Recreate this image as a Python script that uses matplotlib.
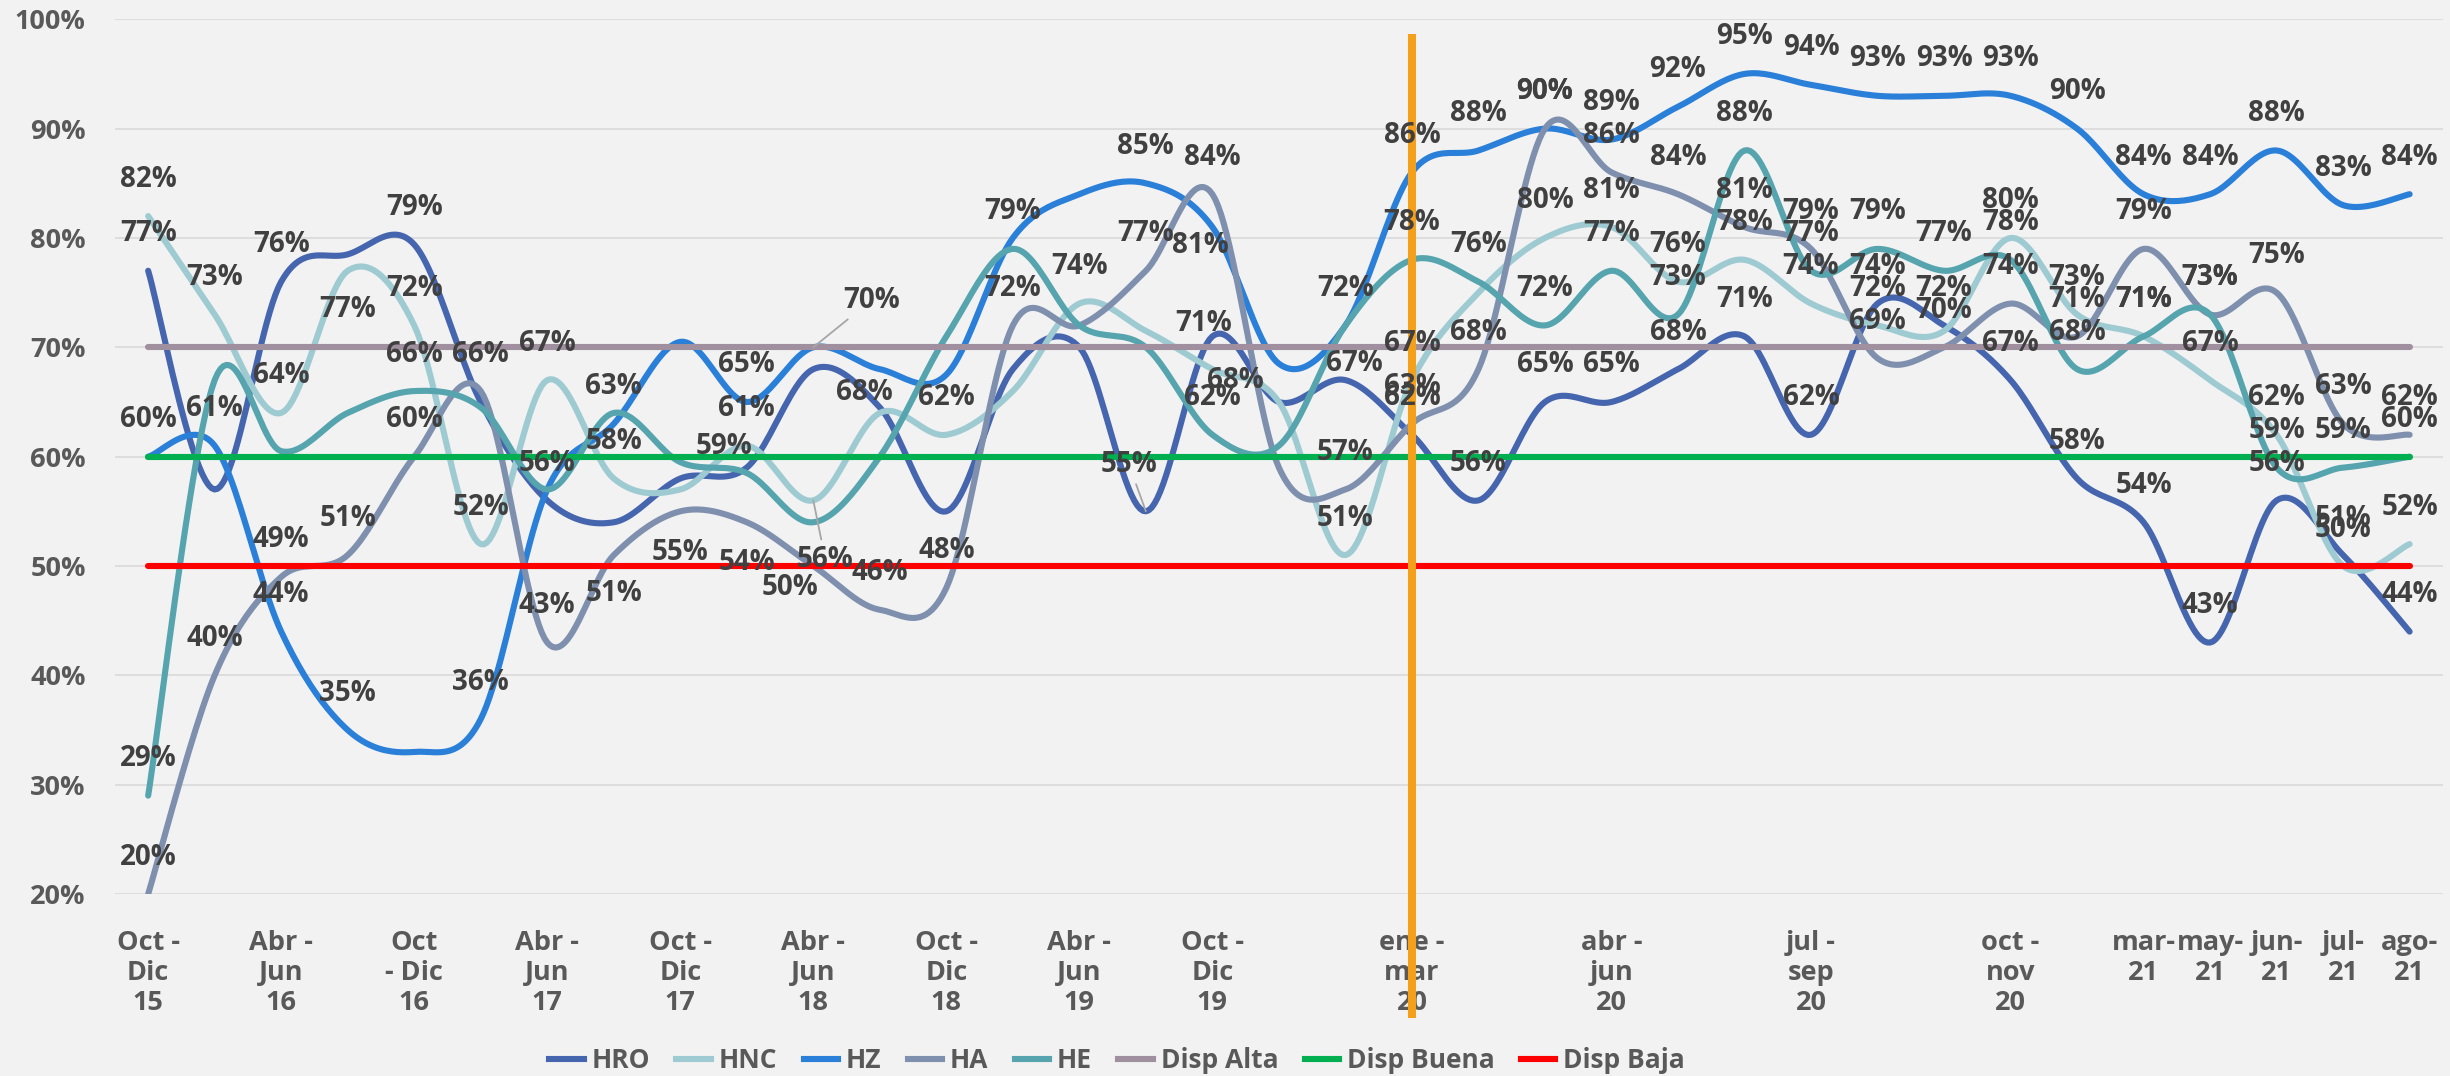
import numpy as np
import matplotlib.pyplot as plt
from matplotlib.lines import Line2D

plt.rcParams['font.family'] = ['Open Sans', 'DejaVu Sans']

# categories (only some carry a tick label)
categories = ['Oct -\nDic\n15', '', 'Abr -\nJun\n16', '', 'Oct\n- Dic\n16', '',
              'Abr -\nJun\n17', '', 'Oct -\nDic\n17', '', 'Abr -\nJun\n18', '',
              'Oct -\nDic\n18', '', 'Abr -\nJun\n19', '', 'Oct -\nDic\n19', '', '',
              'ene -\nmar\n20', '', '', 'abr -\njun\n20', '', '', 'jul -\nsep\n20',
              '', '', 'oct -\nnov\n20', '', 'mar-\n21', 'may-\n21', 'jun-\n21',
              'jul-\n21', 'ago-\n21']

hro = [77, 57, 76, 78.5, 79.4, 65, 56, 54, 58, 59, 68, 64.5, 55, 68, 70, 55, 71, 65,
       67, 62, 56, 65, 65, 68, 71, 62, 74, 72, 67, 58, 54, 43, 56, 51, 44]
hnc = [82, 73, 64, 77, 72, 52, 67, 58, 57, 61, 56, 64, 62, 66, 74, 71.5, 68, 65,
       51, 67, 75, 80, 81, 76, 78, 74, 72, 71.5, 80, 73, 71, 67, 62, 50, 52]
hz = [60, 61, 44, 35, 33, 36, 57, 63, 70.5, 65, 70, 68, 67.5, 80, 84, 85, 81, 68.5,
      72, 86, 88, 90, 89, 92, 95, 94, 93, 93, 93, 90, 84, 84, 88, 83, 84]
ha = [20, 40, 49, 51, 60, 66, 43, 51, 55, 54, 50, 46, 48, 72, 72, 77, 84, 59,
      57, 63, 68, 90, 86, 84, 81, 79, 69, 70, 74, 71, 79, 73, 75, 63, 62]
he = [29, 67, 60.5, 64, 66, 64.5, 57, 64, 59.5, 58.5, 54, 60, 71, 79, 72, 70, 62, 61,
      72, 78, 76, 72, 77, 73, 88, 77, 79, 77, 78, 68, 71, 73, 59, 59, 60]

disp_alta = 70
disp_buena = 60
disp_baja = 50
covid_cat = 19

# points that show a data label
lab_hro = [0, 2, 4, 6, 9, 15, 16, 18, 19, 20, 21, 22, 23, 24, 25, 26, 27, 28, 29,
           30, 31, 32, 33, 34]
lab_hnc = [0, 1, 2, 3, 4, 5, 6, 7, 9, 10, 12, 14, 16, 18, 19, 21, 22, 23, 24, 25,
           26, 28, 29, 30, 31, 32, 33, 34]
lab_hz = [0, 1, 2, 3, 5, 7, 9, 10, 11, 15, 16, 19, 20, 21, 22, 23, 24, 25, 26, 27,
          28, 29, 30, 31, 32, 33, 34]
lab_ha = [0, 1, 2, 3, 4, 5, 6, 7, 8, 9, 10, 11, 12, 13, 15, 16, 18, 19, 20, 21, 22,
          23, 24, 25, 26, 27, 28, 29, 30, 31, 32, 33, 34]
lab_he = [0, 4, 13, 16, 18, 19, 20, 21, 22, 23, 24, 25, 26, 27, 28, 29, 30, 31, 32,
          33, 34]

# label placement tweaks (pixels, y up); default is centred above the point
offsets = {('HRO', 9): (-23, 21), ('HRO', 15): (-17, 47), ('HRO', 16): (-9, 13),
           ('HRO', 18): (9, 17), ('HNC', 3): (0, -39), ('HNC', 10): (12, -59),
           ('HNC', 16): (23, -11), ('HZ', 10): (58, 47), ('HZ', 11): (-15, -23),
           ('HZ', 16): (-12, -18), ('HA', 7): (0, -38), ('HA', 8): (0, -41),
           ('HA', 9): (0, -40), ('HA', 10): (-23, -21)}
leaders = {('HRO', 15), ('HNC', 10), ('HZ', 10)}


def smooth(xs, ys, n=24):
    # Excel-like smoothed line (Catmull-Rom as cubic Bezier)
    p = np.column_stack([xs, ys]).astype(float)
    t = np.linspace(0, 1, n)[:, None]
    out = []
    for i in range(len(p) - 1):
        p0 = p[max(i - 1, 0)]
        p1 = p[i]
        p2 = p[i + 1]
        p3 = p[min(i + 2, len(p) - 1)]
        c1 = p1 + (p2 - p0) / 6
        c2 = p2 - (p3 - p1) / 6
        seg = ((1 - t) ** 3) * p1 + 3 * ((1 - t) ** 2) * t * c1 + 3 * (1 - t) * t ** 2 * c2 + t ** 3 * p2
        out.append(seg if i == 0 else seg[1:])
    out = np.vstack(out)
    return out[:, 0], out[:, 1]


bg = '#F2F2F2'
fig = plt.figure(figsize=(24.5, 10.76), dpi=100, facecolor=bg)
ax = fig.add_axes([0.0469, 0.1691, 0.9502, 0.8130], facecolor=bg)

x = np.arange(len(categories))
series = [('HRO', hro, '#4565AE', lab_hro),
          ('HNC', hnc, '#9ECAD2', lab_hnc),
          ('HZ', hz, '#2A7FD8', lab_hz),
          ('HA', ha, '#7F90AE', lab_ha),
          ('HE', he, '#55A4AE', lab_he)]

for name, vals, col, labs in series:
    sx, sy = smooth(x, vals)
    ax.plot(sx, sy, color=col, lw=4.4, solid_capstyle='round', zorder=3)

refs = [('Disp Alta', disp_alta, '#9F8F9F'),
        ('Disp Buena', disp_buena, '#00B050'),
        ('Disp Baja', disp_baja, '#FF0000')]
for name, val, col in refs:
    ax.plot([x[0], x[-1]], [val, val], color=col, lw=4.4, solid_capstyle='round', zorder=4)

# orange marker at ene-mar 20
ax.plot([covid_cat, covid_cat], [98.3, 9.0], color='#F5A01A', lw=5.8, zorder=5,
        clip_on=False)

for name, vals, col, labs in series:
    for i in labs:
        dx, dy = offsets.get((name, i), (0, 37))
        arrow = None
        if (name, i) in leaders:
            arrow = dict(arrowstyle='-', color='#A6A6A6', lw=1.3, shrinkA=2, shrinkB=0)
        ax.annotate(f'{round(vals[i])}%', xy=(i, vals[i]), xytext=(dx, dy),
                    textcoords='offset pixels', ha='center', va='center',
                    fontsize=20, fontweight='bold', color='#404040', zorder=6,
                    arrowprops=arrow)

ax.set_xlim(-0.5, len(categories) - 0.5)
ax.set_ylim(20, 100)
ax.set_yticks(np.arange(20, 101, 10))
ax.set_yticklabels([f'{v}%' for v in range(20, 101, 10)])
ax.set_xticks(x)
ax.set_xticklabels(categories, linespacing=1.2)
ax.tick_params(axis='both', length=0, labelcolor='#595959', labelsize=19.5)
ax.tick_params(axis='y', pad=21)
ax.tick_params(axis='x', pad=26)
for lbl in ax.get_xticklabels() + ax.get_yticklabels():
    lbl.set_fontweight('bold')
ax.grid(axis='y', color='#D9D9D9', lw=1.2, zorder=0)
ax.set_axisbelow(True)
for s in ax.spines.values():
    s.set_visible(False)

handles = [Line2D([], [], color=c, lw=4.4) for _, _, c, _ in series] + \
          [Line2D([], [], color=c, lw=4.4) for _, _, c in refs]
names = [s[0] for s in series] + [r[0] for r in refs]
leg = fig.legend(handles, names, loc='center', bbox_to_anchor=(0.456, 0.014), ncol=8,
                 frameon=False, fontsize=19, handlelength=1.3, handletextpad=0.3,
                 columnspacing=1.0)
for t in leg.get_texts():
    t.set_color('#595959')
    t.set_fontweight('bold')

fig.savefig('out.png', dpi=100, facecolor=bg)
